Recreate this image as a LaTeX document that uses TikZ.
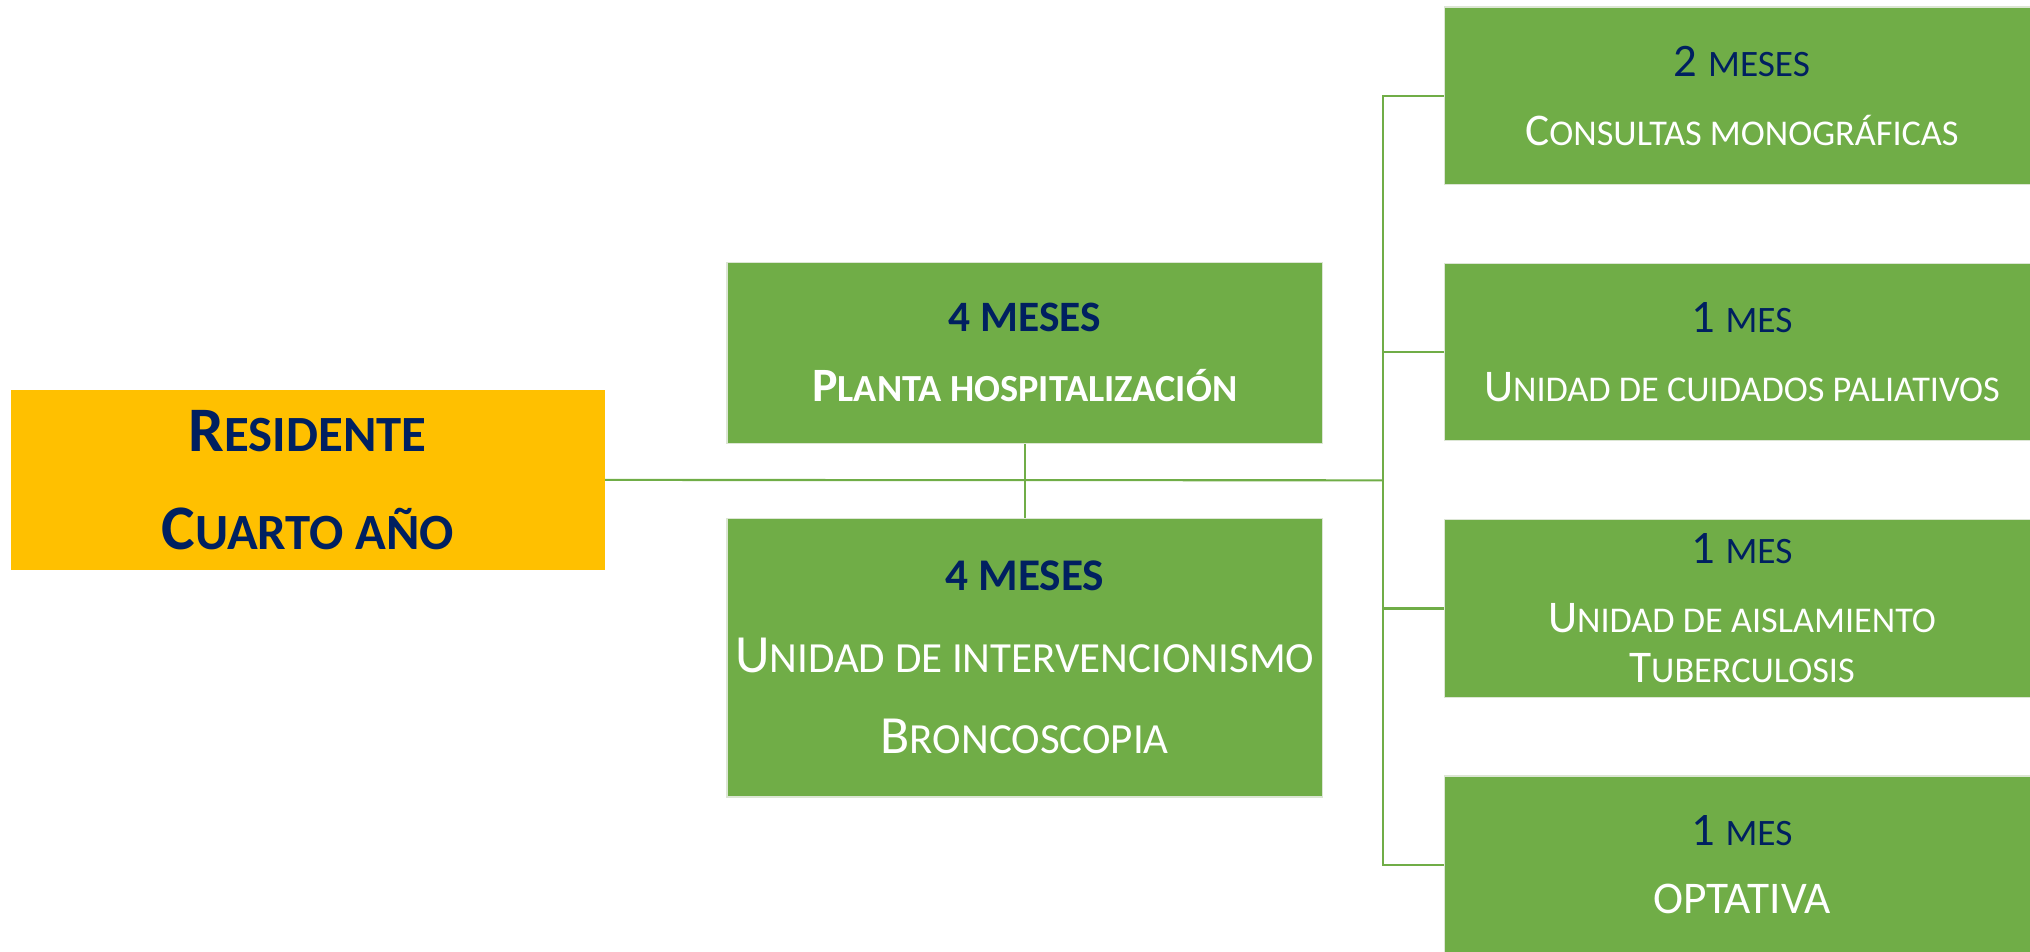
\documentclass[tikz,border=0pt]{standalone}
\usepackage{fontspec}
\setmainfont{Carlito}
\makeatletter
\newcommand\smc[1]{{\fontsize{\the\dimexpr 0.8\dimexpr\f@size pt\relax\relax}{0pt}\selectfont #1}}
\makeatother
\definecolor{gr}{HTML}{70AD47}
\definecolor{yl}{HTML}{FFC000}
\definecolor{nv}{HTML}{002060}
\definecolor{bord}{HTML}{DCE6D4}
\tikzset{
  gbox/.style={fill=gr, draw=bord, line width=1pt, text=white, align=center,
    inner sep=0pt, anchor=north west, minimum width=460pt},
  ybox/.style={fill=yl, draw=none, text=nv, align=center, inner sep=0pt,
    anchor=north west, minimum width=459pt, minimum height=139pt},
  conn/.style={draw=gr, line width=1.6pt}
}
\begin{document}
\begin{tikzpicture}[x=1pt,y=-1pt]
\useasboundingbox (0,0) rectangle (1568,735);
\node[ybox, font=\fontsize{49}{76}\selectfont\bfseries] (res) at (8,301)
  {R\smc{ESIDENTE}\\C\smc{UARTO AÑO}};
\node[gbox, minimum height=140pt, font=\fontsize{37}{54}\selectfont] (pl) at (561,202)
  {\textcolor{nv}{\bfseries\fontsize{33.5}{54}\selectfont 4 MESES}\\{\bfseries P\smc{LANTA HOSPITALIZACIÓN}}};
\node[gbox, minimum height=215pt, font=\fontsize{41.5}{63}\selectfont] (iv) at (561,400)
  {\textcolor{nv}{\bfseries\fontsize{35}{63}\selectfont 4 MESES}\\U\smc{NIDAD DE INTERVENCIONISMO}\\B\smc{RONCOSCOPIA}};
\node[gbox, minimum height=137pt, font=\fontsize{35}{53}\selectfont] (r1) at (1115,5)
  {\textcolor{nv}{\fontsize{36}{53}\selectfont 2 \smc{MESES}}\\C\smc{ONSULTAS MONOGRÁFICAS}};
\node[gbox, minimum height=137pt, font=\fontsize{35}{53}\selectfont] (r2) at (1115,203)
  {\textcolor{nv}{\fontsize{36}{53}\selectfont 1 \smc{MES}}\\U\smc{NIDAD DE CUIDADOS PALIATIVOS}};
\node[gbox, minimum height=137pt, font=\fontsize{35}{53}\selectfont] (r3) at (1115,401)
  {\textcolor{nv}{\fontsize{36}{53}\selectfont 1 \smc{MES}}\\U\smc{NIDAD DE AISLAMIENTO}\\[-14pt]T\smc{UBERCULOSIS}};
\node[gbox, minimum height=137pt, font=\fontsize{35}{53}\selectfont] (r4) at (1115,599)
  {\textcolor{nv}{\fontsize{36}{53}\selectfont 1 \smc{MES}}\\OPTATIVA};
\coordinate (sp) at (1068,371);
\draw[conn] (res.east) -- (sp);
\draw[conn] (pl.south) -- (iv.north);
\draw[conn] (r1.west) -- (r1.west -| sp) -- (r4.west -| sp) -- (r4.west);
\draw[conn] (r2.west) -- (r2.west -| sp);
\draw[conn] (r3.west) -- (r3.west -| sp);
\end{tikzpicture}
\end{document}
